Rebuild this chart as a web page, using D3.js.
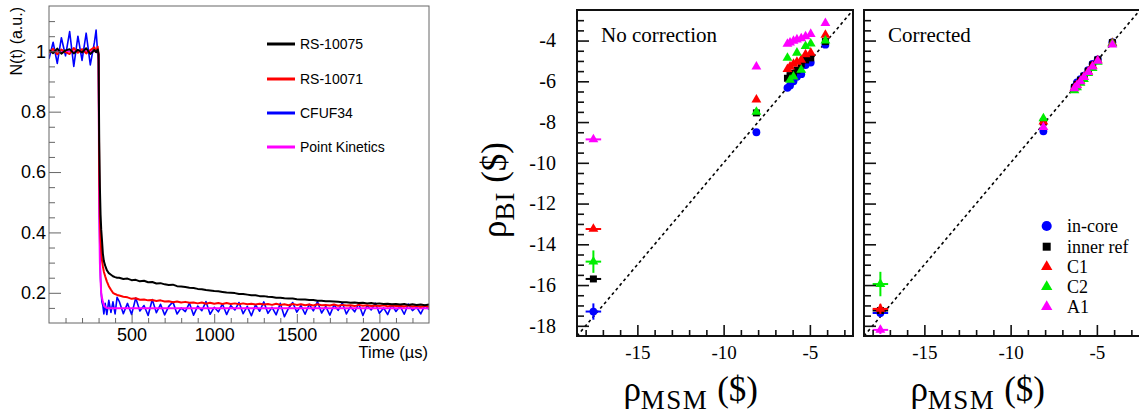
<!DOCTYPE html>
<html>
<head>
<meta charset="utf-8">
<script src="https://cdn.jsdelivr.net/npm/d3@7"></script>
<style>
  body { margin: 0; background: #fff; }
  svg { display: block; }
</style>
</head>
<body>
<svg id="chart" width="1139" height="414"></svg>
<script>
// ---- left plot: N(t) after the rod drop ----
const timeUs = [0, 25, 50, 75, 100, 125, 150, 175, 200, 225, 250, 275,
  285, 295, 300, 304, 308, 312, 316, 320, 326, 332, 340, 350, 362, 375, 387, 400, 412,
  425, 450, 475, 500, 525, 550, 575, 600, 625, 650, 675, 700, 725, 750, 775, 800,
  825, 850, 875, 900, 925, 950, 975, 1000, 1025, 1050, 1075, 1100, 1125, 1150, 1175, 1200,
  1225, 1250, 1275, 1300, 1325, 1350, 1375, 1400, 1425, 1450, 1475, 1500, 1525, 1550, 1575, 1600,
  1625, 1650, 1675, 1700, 1725, 1750, 1775, 1800, 1825, 1850, 1875, 1900, 1925, 1950, 1975, 2000,
  2025, 2050, 2075, 2100, 2125, 2150, 2175, 2200, 2225, 2250, 2275, 2300];

const rs10075 = [1.004, 0.994, 1.009, 0.992, 1.003, 1.007, 0.993, 1.005, 0.996, 1.010, 0.991, 1.004,
  0.997, 1.006, 0.990, 0.70, 0.55, 0.46, 0.41, 0.38, 0.33, 0.305, 0.29, 0.275, 0.265, 0.260, 0.255, 0.252, 0.250,
  0.250, 0.246, 0.247, 0.242, 0.243, 0.238, 0.240, 0.235, 0.236, 0.231, 0.232, 0.228, 0.226, 0.227, 0.222, 0.221,
  0.219, 0.217, 0.216, 0.213, 0.212, 0.209, 0.208, 0.206, 0.205, 0.203, 0.201, 0.200, 0.199, 0.196, 0.196, 0.194,
  0.192, 0.192, 0.189, 0.189, 0.187, 0.186, 0.184, 0.184, 0.182, 0.181, 0.181, 0.179, 0.178, 0.178, 0.176, 0.176,
  0.174, 0.174, 0.172, 0.172, 0.171, 0.170, 0.169, 0.169, 0.167, 0.168, 0.166, 0.167, 0.165, 0.166, 0.164, 0.165,
  0.163, 0.164, 0.162, 0.163, 0.161, 0.163, 0.160, 0.162, 0.160, 0.161, 0.159, 0.161];

const rs10071 = [0.996, 1.008, 0.990, 1.006, 0.997, 0.991, 1.011, 0.995, 1.007, 0.993, 1.004, 1.013,
  0.998, 1.015, 0.990, 0.60, 0.45, 0.38, 0.34, 0.31, 0.288, 0.270, 0.255, 0.238, 0.222, 0.210, 0.200, 0.196, 0.193,
  0.191, 0.187, 0.185, 0.180, 0.182, 0.177, 0.178, 0.175, 0.176, 0.173, 0.175, 0.171, 0.172, 0.169, 0.171, 0.168,
  0.170, 0.167, 0.168, 0.165, 0.168, 0.164, 0.167, 0.164, 0.166, 0.163, 0.166, 0.163, 0.165, 0.162, 0.165, 0.162,
  0.164, 0.161, 0.164, 0.161, 0.163, 0.160, 0.164, 0.160, 0.162, 0.159, 0.163, 0.160, 0.162, 0.159, 0.161, 0.158,
  0.162, 0.159, 0.160, 0.158, 0.161, 0.157, 0.160, 0.158, 0.159, 0.156, 0.160, 0.157, 0.159, 0.156, 0.158, 0.156,
  0.159, 0.155, 0.158, 0.156, 0.157, 0.155, 0.158, 0.155, 0.157, 0.154, 0.157, 0.155];

const cfuf34 = [0.975, 1.030, 0.960, 1.045, 0.985, 1.065, 0.950, 1.050, 0.970, 1.060, 0.955, 1.030,
  1.070, 0.990, 0.970, 0.50, 0.34, 0.25, 0.20, 0.17, 0.158, 0.130, 0.165, 0.128, 0.175, 0.135, 0.170, 0.130, 0.185,
  0.172, 0.131, 0.165, 0.128, 0.183, 0.140, 0.158, 0.125, 0.178, 0.134, 0.162, 0.127, 0.155, 0.170, 0.130, 0.150,
  0.138, 0.166, 0.126, 0.156, 0.141, 0.171, 0.129, 0.152, 0.137, 0.163, 0.128, 0.158, 0.143, 0.168, 0.131, 0.155,
  0.124, 0.160, 0.139, 0.170, 0.132, 0.152, 0.127, 0.165, 0.121, 0.149, 0.168, 0.136, 0.158, 0.129, 0.162, 0.140,
  0.171, 0.133, 0.155, 0.126, 0.160, 0.142, 0.167, 0.130, 0.154, 0.137, 0.164, 0.125, 0.158, 0.143, 0.166, 0.132,
  0.150, 0.128, 0.161, 0.138, 0.156, 0.129, 0.163, 0.141, 0.153, 0.130, 0.158, 0.145];

const pointKinetics = [1, 1, 1, 1, 1, 1, 1, 1, 1, 1, 1, 1,
  1, 1, 0.99, 0.45, 0.30, 0.24, 0.20, 0.185, 0.17, 0.16, 0.153, 0.150, 0.149, 0.149, 0.149, 0.149, 0.149,
  0.149, 0.149, 0.149, 0.149, 0.149, 0.149, 0.149, 0.149, 0.149, 0.149, 0.149, 0.149, 0.149, 0.149, 0.149, 0.149,
  0.149, 0.149, 0.149, 0.149, 0.149, 0.149, 0.149, 0.149, 0.149, 0.149, 0.149, 0.149, 0.149, 0.149, 0.149, 0.149,
  0.149, 0.149, 0.149, 0.149, 0.149, 0.149, 0.149, 0.149, 0.149, 0.149, 0.149, 0.149, 0.149, 0.149, 0.149, 0.149,
  0.149, 0.149, 0.149, 0.149, 0.149, 0.149, 0.149, 0.149, 0.149, 0.149, 0.149, 0.149, 0.149, 0.149, 0.149, 0.149,
  0.149, 0.149, 0.149, 0.149, 0.149, 0.149, 0.149, 0.149, 0.149, 0.149, 0.149, 0.149];

const timeTicks = [500, 1000, 1500, 2000];
const nTicks = [0.2, 0.4, 0.6, 0.8, 1];
const detectorNames = ["RS-10075", "RS-10071", "CFUF34", "Point Kinetics"];

// ---- right plots: rho_BI vs rho_MSM ----
const rhoMSM = [-17.55, -8.1, -6.3, -6.15, -5.95, -5.75, -5.5, -5.25, -4.95, -4.1];
const rhoMSMErr = [0.45, 0, 0, 0, 0, 0, 0, 0, 0, 0];

const inCoreRaw   = [-17.3, -8.5, -6.32, -6.2, -6.0, -5.78, -5.65, -5.2, -5.08, -4.2];
const innerRefRaw = [-15.7, -7.55, -5.85, -5.72, -5.6, -5.45, -5.15, -4.95, -4.85, -4.05];
const c1Raw       = [-13.25, -6.9, -5.4, -5.28, -5.15, -5.05, -4.95, -4.68, -4.6, -3.72];
const c2Raw       = [-14.85, -7.5, -4.85, -5.93, -5.77, -4.6, -5.44, -4.27, -4.15, -4.0];
const a1Raw       = [-8.85, -5.28, -4.17, -4.1, -4.02, -3.95, -3.89, -3.8, -3.68, -3.15];
const rawErrFirst = [0.4, 0.1, 0.1, 0.55, 0.1];

const inCoreCor   = [-17.37, -8.45, -6.28, -6.05, -5.9, -5.72, -5.45, -5.15, -4.92, -4.08];
const innerRefCor = [-17.25, -8.0, -6.3, -6.15, -5.95, -5.75, -5.5, -5.2, -4.95, -4.1];
const c1Cor       = [-17.17, -7.98, -6.32, -6.18, -5.98, -5.78, -5.52, -5.25, -4.98, -4.12];
const c2Cor       = [-15.95, -7.82, -6.45, -6.3, -6.08, -5.9, -5.6, -5.35, -5.05, -4.15];
const a1Cor       = [-18.2, -8.25, -6.35, -6.2, -6.0, -5.8, -5.55, -5.28, -5.0, -4.2];
const corErrFirst = [0.15, 0.1, 0.25, 0.6, 0.2];

const seriesNames = ["in-core", "inner ref", "C1", "C2", "A1"];
const seriesColors = ["#0000ff", "#000000", "#ff0000", "#00ee00", "#ff00ff"];
const seriesShapes = [d3.symbolCircle, d3.symbolSquare, d3.symbolTriangle, d3.symbolTriangle, d3.symbolTriangle];
const rhoTicks = [-15, -10, -5];
const rhoBITicks = [-4, -6, -8, -10, -12, -14, -16, -18];

const svg = d3.select("#chart");

function drawTimePlot() {
  const x = d3.scaleLinear().domain([0, 2300]).range([49, 429]);
  const y = d3.scaleLinear().domain([0.1, 1.15]).range([323, 6]);
  const g = svg.append("g");

  g.append("clipPath").attr("id", "clipL").append("rect")
    .attr("x", 49).attr("y", 6).attr("width", 380).attr("height", 317);

  const colors = ["#000000", "#ff0000", "#0000ff", "#ff00ff"];
  const series = [rs10075, rs10071, cfuf34, pointKinetics];
  const widths = [2, 2, 1.6, 2];
  const order = [2, 3, 1, 0];
  let line = d3.line().x((d, i) => x(timeUs[i])).y(d => y(d));
  order.forEach(k => {
    g.append("path").datum(series[k])
      .attr("clip-path", "url(#clipL)")
      .attr("d", line)
      .attr("fill", "none")
      .attr("stroke", colors[k])
      .attr("stroke-width", widths[k])
      .attr("stroke-linejoin", "round");
  });

  // frame
  g.append("rect").attr("x", 49).attr("y", 6).attr("width", 380).attr("height", 317)
    .attr("fill", "none").attr("stroke", "#666").attr("stroke-width", 1);

  const font = "'Liberation Sans', Arial, sans-serif";
  let xMinor = d3.range(100, 2300, 100).filter(v => v % 500 != 0);
  g.append("g").attr("transform", "translate(0,323)")
    .call(d3.axisBottom(x).tickValues(xMinor).tickSize(-5).tickFormat(""));
  let xAx = g.append("g").attr("transform", "translate(0,323)")
    .call(d3.axisBottom(x).tickValues(timeTicks).tickSize(-9).tickPadding(5).tickFormat(d3.format("d")));
  xAx.selectAll("text").attr("font-size", 18).attr("font-family", font).attr("fill", "#000");

  let yMinor = d3.range(0.15, 1.15, 0.05).filter(v => Math.abs(v * 5 - Math.round(v * 5)) > 0.01);
  g.append("g").attr("transform", "translate(49,0)")
    .call(d3.axisLeft(y).tickValues(yMinor).tickSize(-6).tickFormat(""));
  let yAx = g.append("g").attr("transform", "translate(49,0)")
    .call(d3.axisLeft(y).tickValues(nTicks).tickSize(-12).tickPadding(3).tickFormat(d => d == 1 ? "1" : d3.format(".1f")(d)));
  yAx.selectAll("text").attr("font-size", 18).attr("font-family", font).attr("fill", "#000");
  g.selectAll(".domain").remove();
  g.selectAll(".tick line").attr("stroke", "#666");

  g.append("text").attr("x", 428).attr("y", 358).attr("text-anchor", "end")
    .attr("font-family", font).attr("font-size", 16.5).text("Time (\u00b5s)");
  g.append("text").attr("transform", "translate(22,7) rotate(-90)").attr("text-anchor", "end")
    .attr("font-family", font).attr("font-size", 16).text("N(t) (a.u.)");

  // legend
  const legY = [44, 79, 113, 147];
  detectorNames.forEach((name, i) => {
    g.append("line").attr("x1", 267).attr("x2", 295).attr("y1", legY[i]).attr("y2", legY[i])
      .attr("stroke", colors[i]).attr("stroke-width", 3);
    g.append("text").attr("x", 300).attr("y", legY[i] + 5)
      .attr("font-family", font).attr("font-size", 14).text(name);
  });
}

function drawRhoPanel(left, label, values, errFirst, withYLabels, withLegend, id) {
  const top = 10, bottom = 336, width = 276;
  const x = d3.scaleLinear().domain([-18.5, -2.5]).range([left, left + width]);
  const y = d3.scaleLinear().domain([-18.5, -2.5]).range([bottom, top]);
  const g = svg.append("g");
  const serif = "'Liberation Serif', 'Times New Roman', serif";

  g.append("clipPath").attr("id", id).append("rect")
    .attr("x", left).attr("y", top).attr("width", width).attr("height", bottom - top);

  g.append("line").attr("clip-path", "url(#" + id + ")")
    .attr("x1", x(-18.5)).attr("y1", y(-18.5)).attr("x2", x(-2.5)).attr("y2", y(-2.5))
    .attr("stroke", "#000").attr("stroke-width", 1.6).attr("stroke-dasharray", "3,3");

  values.forEach((vals, s) => {
    vals.forEach((v, i) => {
      let ex = rhoMSMErr[i], ey = i == 0 ? errFirst[s] : 0;
      if (ex > 0) g.append("line").attr("x1", x(rhoMSM[i] - ex)).attr("x2", x(rhoMSM[i] + ex))
        .attr("y1", y(v)).attr("y2", y(v)).attr("stroke", seriesColors[s]).attr("stroke-width", 2);
      if (ey > 0) g.append("line").attr("x1", x(rhoMSM[i])).attr("x2", x(rhoMSM[i]))
        .attr("y1", y(v - ey)).attr("y2", y(v + ey)).attr("stroke", seriesColors[s]).attr("stroke-width", 2);
    });
    g.selectAll(null).data(vals).enter().append("path")
      .attr("transform", (v, i) => "translate(" + x(rhoMSM[i]) + "," + y(v) + ")")
      .attr("d", d3.symbol().type(seriesShapes[s]).size(s == 0 ? 48 : s == 1 ? 49 : 42))
      .attr("fill", seriesColors[s]);
  });

  // frame
  g.append("rect").attr("x", left).attr("y", top).attr("width", width).attr("height", bottom - top)
    .attr("fill", "none").attr("stroke", "#111").attr("stroke-width", 2);

  let xMinor = d3.range(-18, -2, 1).filter(v => v % 5 != 0);
  g.append("g").attr("transform", "translate(0," + bottom + ")")
    .call(d3.axisBottom(x).tickValues(xMinor).tickSize(-6).tickFormat(""));
  let xAx = g.append("g").attr("transform", "translate(0," + bottom + ")")
    .call(d3.axisBottom(x).tickValues(rhoTicks).tickSize(-11).tickPadding(10).tickFormat(d => "-" + Math.abs(d)));
  xAx.selectAll("text").attr("font-size", 19).attr("font-family", serif).attr("fill", "#000");

  let yMinor = d3.range(-18, -2.5, 0.5).filter(v => v % 2 != 0);
  g.append("g").attr("transform", "translate(" + left + ",0)")
    .call(d3.axisLeft(y).tickValues(yMinor).tickSize(-7).tickFormat(""));
  let yAx = g.append("g").attr("transform", "translate(" + left + ",0)")
    .call(d3.axisLeft(y).tickValues(rhoBITicks).tickSize(-12).tickPadding(21).tickFormat(d => withYLabels ? "-" + Math.abs(d) : ""));
  yAx.selectAll("text").attr("font-size", 20).attr("font-family", serif).attr("fill", "#000");
  g.selectAll(".domain").remove();
  g.selectAll(".tick line").attr("stroke", "#111").attr("stroke-width", 1.6);

  g.append("text").attr("x", left + 24).attr("y", 42)
    .attr("font-family", serif).attr("font-size", 21).text(label);

  // x title
  let xt = g.append("text").attr("x", x(-15) - 14).attr("y", 401).attr("font-family", serif).attr("font-size", 35);
  xt.append("tspan").text("\u03c1");
  xt.append("tspan").attr("font-size", 27).attr("dy", 8).attr("letter-spacing", 1.5).text("MSM");
  xt.append("tspan").attr("dy", -8).text(" ($)");

  if (withLegend) {
    const legY = [226, 246.7, 266.7, 286.7, 306.7];
    seriesNames.forEach((name, s) => {
      g.append("path").attr("transform", "translate(1046.7," + legY[s] + ")")
        .attr("d", d3.symbol().type(seriesShapes[s]).size(s == 0 ? 80 : s == 1 ? 64 : 56))
        .attr("fill", seriesColors[s]);
      g.append("text").attr("x", 1067).attr("y", legY[s] + 6)
        .attr("font-family", serif).attr("font-size", 18).text(name);
    });
  }
}

function drawYTitle() {
  const serif = "'Liberation Serif', 'Times New Roman', serif";
  let t = svg.append("text").attr("transform", "translate(506,190) rotate(-90)")
    .attr("text-anchor", "middle").attr("font-family", serif).attr("font-size", 35);
  t.append("tspan").text("\u03c1");
  t.append("tspan").attr("font-size", 27).attr("dy", 8).attr("letter-spacing", 1).text("BI");
  t.append("tspan").attr("dy", -8).text(" ($)");
}

drawTimePlot();
drawRhoPanel(577, "No correction", [inCoreRaw, innerRefRaw, c1Raw, c2Raw, a1Raw], rawErrFirst, true, false, "clipA");
drawRhoPanel(864, "Corrected", [inCoreCor, innerRefCor, c1Cor, c2Cor, a1Cor], corErrFirst, false, true, "clipB");
drawYTitle();
</script>
</body>
</html>
